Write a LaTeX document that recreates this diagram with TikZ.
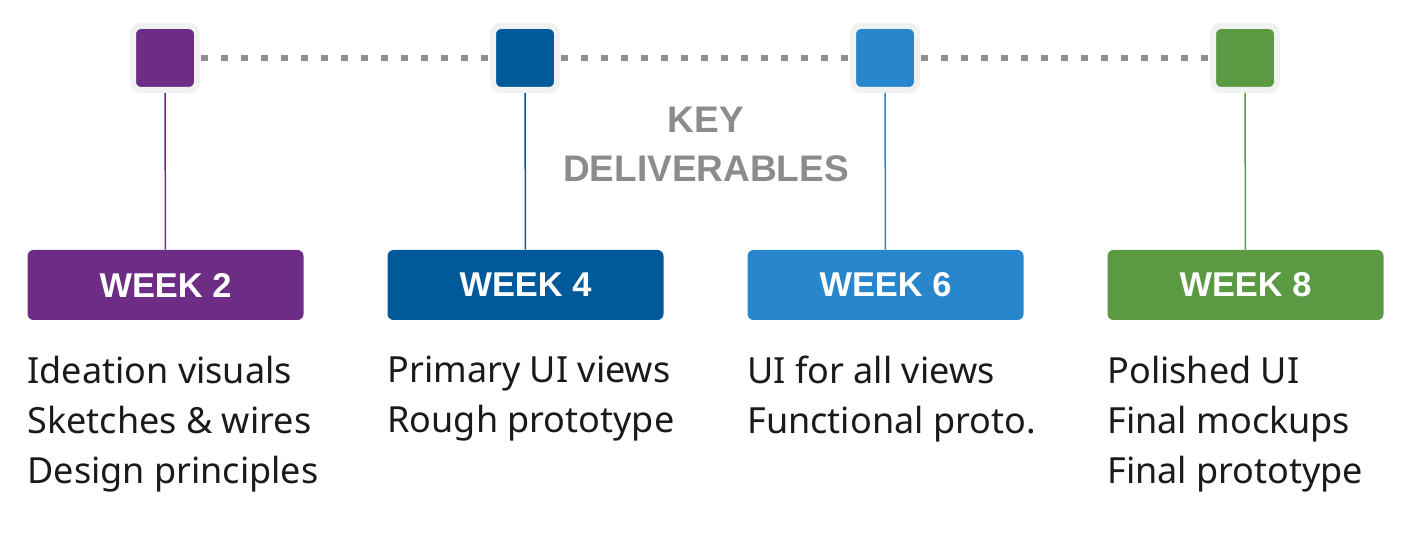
\documentclass[tikz,border=0pt]{standalone}
\usepackage{fontspec}
\setmainfont{Noto Sans}
\newfontfamily\headfont{Liberation Sans}
\usetikzlibrary{positioning}
\definecolor{weektwo}{HTML}{6D2D85}
\definecolor{weekfour}{HTML}{005A9A}
\definecolor{weeksix}{HTML}{2887CC}
\definecolor{weekeight}{HTML}{5B9A43}
\definecolor{framegray}{HTML}{F0F2F2}
\definecolor{dotgray}{HTML}{8E8E8E}
\definecolor{titlegray}{HTML}{8C8C8C}
\definecolor{ink}{HTML}{1A1A1A}
\tikzset{
    marker/.style={draw=framegray, line width=3pt, fill=#1, minimum size=32pt, rounded corners=4pt, inner sep=0pt},
    weekbox/.style={fill=#1, rounded corners=3pt, minimum width=138pt, minimum height=35pt, inner sep=0pt,
        text=white, font=\headfont\bfseries\fontsize{17.2}{20}\selectfont},
    items/.style={align=left, inner sep=0pt, text=ink, font=\fontsize{18}{25}\selectfont},
    stem/.style={draw=#1, line width=0.75pt},
    dots/.style={draw=dotgray, line width=2.75pt, dash pattern=on 3.5pt off 6.5pt, shorten <=0.5pt, shorten >=1pt}
}
\begin{document}
\begin{tikzpicture}[x=0.5pt, y=-0.5pt]
    \useasboundingbox (0,0) rectangle (1414,534);
    % timeline markers and week boxes, one column every 360px
    \foreach \n/\x/\c in {2/165/weektwo, 4/525/weekfour, 6/885/weeksix, 8/1245/weekeight} {
        \node[marker=\c] (m\n) at (\x,58) {};
        \node[weekbox=\c] (w\n) at (\x+0.5,285) {WEEK \n};
        \draw[stem=\c] (m\n) -- (w\n);
    }
    % dotted timeline between the markers
    \draw[dots] (m2) -- (m4);
    \draw[dots] (m4) -- (m6);
    \draw[dots] (m6) -- (m8);
    \node[align=center, text=titlegray, font=\headfont\bfseries\fontsize{18.5}{24.5}\selectfont] (title) at (706,144)
        {KEY\\DELIVERABLES};
    % deliverables under each week
    \node[items, below right=17.5pt and 0pt of w2.south west] (d2)
        {Ideation visuals\\Sketches \& wires\\Design principles};
    \node[items, below right=17.5pt and 0pt of w4.south west] (d4)
        {Primary UI views\\Rough prototype};
    \node[items, below right=17.5pt and 0pt of w6.south west] (d6)
        {UI for all views\\Functional proto.};
    \node[items, below right=17.5pt and 0pt of w8.south west] (d8)
        {Polished UI\\Final mockups\\Final prototype};
\end{tikzpicture}
\end{document}
